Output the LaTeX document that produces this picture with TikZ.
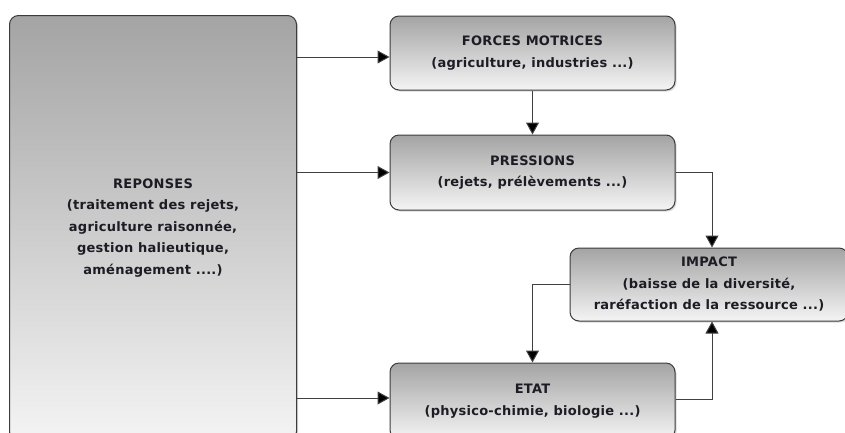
\documentclass[tikz,border=0pt]{standalone}
\usepackage{fontspec}
\setmainfont{DejaVu Sans}[LetterSpace=2]
\usetikzlibrary{arrows.meta,shadows,calc}
\definecolor{txt}{HTML}{1C1C24}
\definecolor{gtop}{HTML}{A4A4A4}
\definecolor{gbot}{HTML}{F4F4F4}
\definecolor{bord}{HTML}{3C3C3C}
\definecolor{lin}{HTML}{404040}
\tikzset{
  box/.style={draw=bord, line width=1pt, rounded corners=9pt, top color=gtop, bottom color=gbot,
    drop shadow={shadow xshift=1.5pt, shadow yshift=-1.5pt, fill=gray!60, opacity=0.5},
    align=center, text=txt, font=\fontsize{13pt}{21.5pt}\selectfont\bfseries, inner sep=0pt},
  arr/.style={draw=lin, line width=1pt, -{Triangle[length=12pt,width=13pt,fill=black]}}
}
\begin{document}
\begin{tikzpicture}[x=1pt,y=-1pt]
\useasboundingbox (0,0) rectangle (845,432);
\clip (0,0) rectangle (845,432);
\node[box, minimum width=287pt, minimum height=425pt] (rep) at (153,228) {REPONSES\\(traitement des rejets,\\agriculture raisonnée,\\gestion halieutique,\\aménagement ....)};
\node[box, minimum width=285pt, minimum height=74pt] (forces) at (532.5,53) {FORCES MOTRICES\\(agriculture, industries ...)};
\node[box, minimum width=285pt, minimum height=75pt] (press) at (532.5,172.5) {PRESSIONS\\(rejets, prélèvements ...)};
\node[box, minimum width=278pt, minimum height=73pt] (impact) at (709,284.5) {IMPACT\\(baisse de la diversité,\\raréfaction de la ressource ...)};
\node[box, minimum width=285pt, minimum height=76pt] (etat) at (532.5,401) {ETAT\\(physico-chimie, biologie ...)};
\draw[arr] ([yshift=-4pt]forces.west -| rep.east) -- ([yshift=-4pt]forces.west);
\draw[arr] (press.west -| rep.east) -- (press.west);
\draw[arr] ([yshift=3pt]etat.west -| rep.east) -- ([yshift=3pt]etat.west);
\draw[arr] (forces.south) -- (press.north);
\draw[arr] (press.east) -| ([xshift=3pt]impact.north);
\draw[arr] (impact.west) -| (etat.north);
\draw[arr] ([yshift=2pt]etat.east) -| ([xshift=3pt]impact.south);
\end{tikzpicture}
\end{document}
